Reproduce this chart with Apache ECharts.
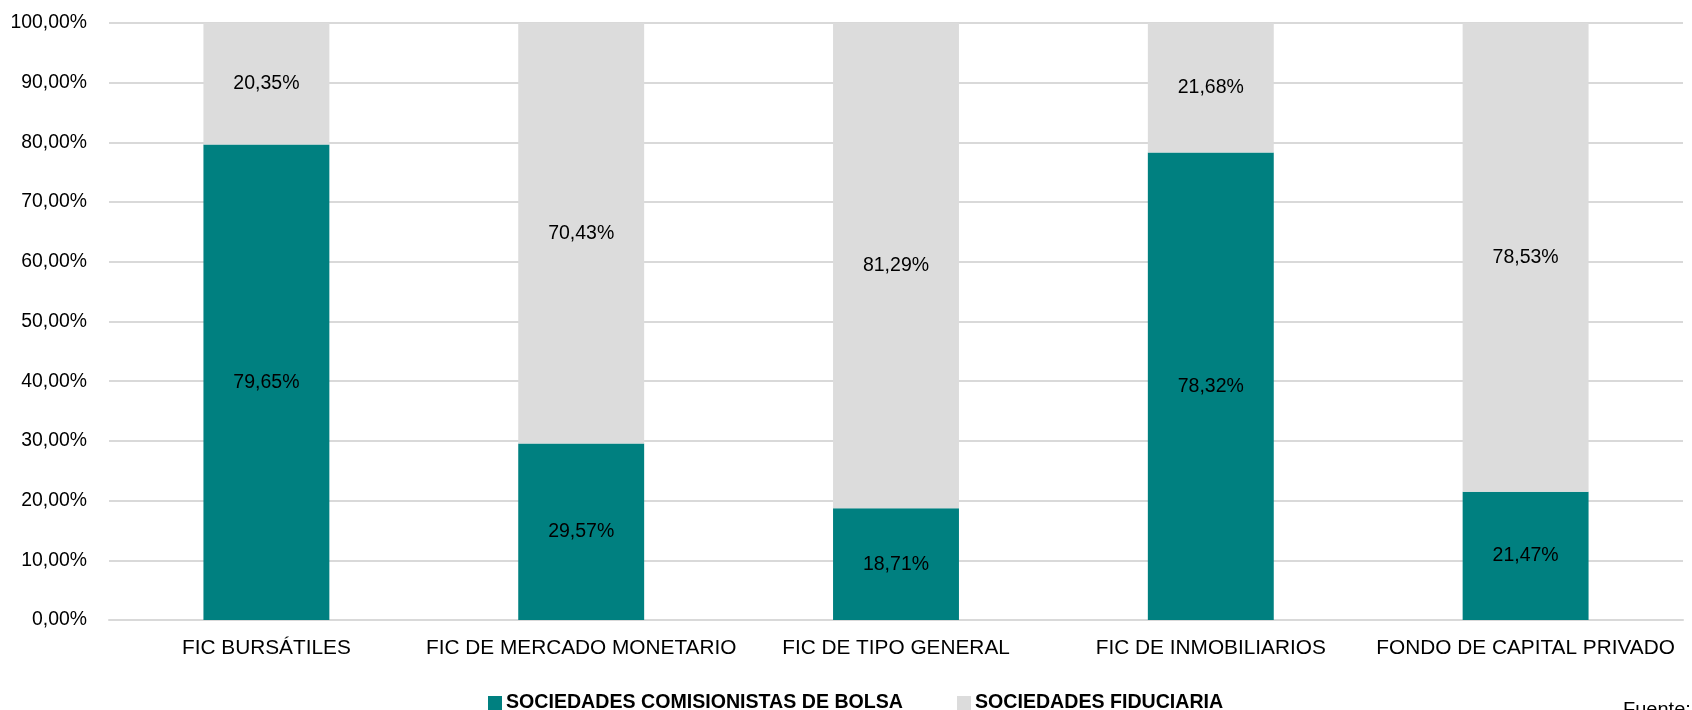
<!DOCTYPE html>
<html>
<head>
<meta charset="utf-8">
<script src="https://cdn.jsdelivr.net/npm/echarts@6/dist/echarts.min.js"></script>
<style>
html,body{margin:0;padding:0;background:#fff;}
#chart{width:1692px;height:710px;}
</style>
</head>
<body>
<div id="chart"></div>
<script>
const categories = ['FIC BURSÁTILES', 'FIC DE MERCADO MONETARIO', 'FIC DE TIPO GENERAL', 'FIC DE INMOBILIARIOS', 'FONDO DE CAPITAL PRIVADO'];
const comisionistas = [79.65, 29.57, 18.71, 78.32, 21.47];
const fiduciarias = [20.35, 70.43, 81.29, 21.68, 78.53];
const seriesNames = ['SOCIEDADES COMISIONISTAS DE BOLSA', 'SOCIEDADES FIDUCIARIA'];
const yTicks = [0, 10, 20, 30, 40, 50, 60, 70, 80, 90, 100];

const FONT = '"Liberation Sans Narrow", "Arial Narrow", "Liberation Sans", Arial, sans-serif';
const fmt = v => v.toFixed(2).replace('.', ',') + '%';

const chart = echarts.init(document.getElementById('chart'));
chart.setOption({
  animation: false,
  textStyle: { fontFamily: FONT },
  grid: { left: 109, right: 9, top: 23, bottom: 90, containLabel: false },
  legend: {
    data: seriesNames,
    top: 688,
    left: 483,
    itemWidth: 14,
    itemHeight: 14,
    itemGap: 54,
    icon: 'rect',
    textStyle: { fontFamily: FONT, fontSize: 19.6, fontWeight: 'bold', color: '#000', padding: [0, 0, 0, -1] }
  },
  xAxis: {
    type: 'category',
    data: categories,
    axisTick: { show: false },
    axisLine: { lineStyle: { color: '#d9d9d9', width: 2 } },
    axisLabel: { interval: 0, color: '#000', fontSize: 20.8, fontFamily: FONT, margin: 18 }
  },
  yAxis: {
    type: 'value',
    min: 0,
    max: 100,
    interval: 10,
    axisLine: { show: false },
    axisTick: { show: false },
    splitLine: { lineStyle: { color: '#d9d9d9', width: 2 } },
    axisLabel: {
      color: '#000', fontSize: 19.4, fontFamily: FONT, margin: 22,
      formatter: v => yTicks.includes(v) ? fmt(v) : ''
    }
  },
  series: [
    {
      name: seriesNames[0], type: 'bar', stack: 'total', barWidth: '40%',
      data: comisionistas,
      itemStyle: { color: '#008080' },
      label: { show: true, position: 'inside', color: '#000', fontSize: 19.5, fontFamily: FONT, formatter: p => fmt(p.value) }
    },
    {
      name: seriesNames[1], type: 'bar', stack: 'total', barWidth: '40%',
      data: fiduciarias,
      itemStyle: { color: '#dcdcdc' },
      label: { show: true, position: 'inside', color: '#000', fontSize: 19.5, fontFamily: FONT, formatter: p => fmt(p.value) }
    }
  ],
  graphic: [
    { type: 'text', left: 1623, top: 700, style: { text: 'Fuente:', fontSize: 20, fontFamily: FONT, fill: '#000' } }
  ]
});
</script>
</body>
</html>
